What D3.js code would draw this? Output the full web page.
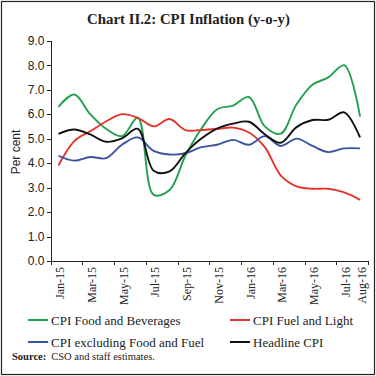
<!DOCTYPE html>
<html lang="en">
<head>
  <meta charset="UTF-8">
  <title>Chart II.2: CPI Inflation (y-o-y)</title>
  <script src="https://d3js.org/d3.v7.min.js"></script>
  <style>
    body { margin: 0; background: #fff; }
    svg { display: block; }
    .axis path, .axis line { stroke: #222; shape-rendering: crispEdges; }
    .axis text { fill: #222; }
  </style>
</head>
<body>
  <div id="chart"></div>
  <script>
    // Months on the x axis
    const months = ["Jan-15","Feb-15","Mar-15","Apr-15","May-15","Jun-15","Jul-15","Aug-15","Sep-15","Oct-15",
                    "Nov-15","Dec-15","Jan-16","Feb-16","Mar-16","Apr-16","May-16","Jun-16","Jul-16","Aug-16"];
    const tickLabels = ["Jan-15","Mar-15","May-15","Jul-15","Sep-15","Nov-15","Jan-16","Mar-16","May-16","Jul-16","Aug-16"];
    const yTicks = [0,1,2,3,4,5,6,7,8,9];

    // Series values (per cent)
    const foodBev   = [6.3, 6.8, 6.0, 5.4, 5.1, 5.85, 2.7, 2.9, 4.3, 5.4, 6.2, 6.35, 6.7, 5.5, 5.2, 6.4, 7.2, 7.5, 8.0, 5.9];
    const fuelLight = [3.9, 4.9, 5.3, 5.7, 6.0, 5.85, 5.5, 5.8, 5.35, 5.35, 5.4, 5.45, 5.25, 4.65, 3.5, 3.05, 2.95, 2.95, 2.8, 2.5];
    const exFoodFuel = [4.3, 4.1, 4.25, 4.2, 4.75, 5.05, 4.5, 4.35, 4.4, 4.65, 4.75, 4.95, 4.75, 5.1, 4.7, 5.0, 4.7, 4.45, 4.6, 4.6];
    const headline  = [5.19, 5.37, 5.17, 4.87, 5.01, 5.40, 3.69, 3.66, 4.41, 5.0, 5.41, 5.61, 5.69, 5.18, 4.83, 5.47, 5.76, 5.77, 6.07, 5.05];

    const series = [
      { name: "CPI Food and Beverages", values: foodBev, color: "#23a050" },
      { name: "CPI Fuel and Light", values: fuelLight, color: "#e3342b" },
      { name: "CPI excluding Food and Fuel", values: exFoodFuel, color: "#3a52a0" },
      { name: "Headline CPI", values: headline, color: "#111" }
    ];

    const W = 376, H = 376;
    const svg = d3.select("#chart").append("svg")
      .attr("width", W).attr("height", H);

    // outer frame
    svg.append("rect")
      .attr("x", 1.5).attr("y", 1.5)
      .attr("width", W - 3).attr("height", H - 3)
      .attr("fill", "none").attr("stroke", "#222").attr("stroke-width", 1.2);

    // title, sized so it spans about 203px like the original
    const title = svg.append("text")
      .attr("x", 188.5).attr("y", 23.5)
      .attr("text-anchor", "middle")
      .style("font-family", "'Liberation Serif', serif")
      .style("font-weight", "bold")
      .style("font-size", "16px")
      .style("fill", "#222")
      .text("Chart II.2: CPI Inflation (y-o-y)");
    const tw = title.node().getComputedTextLength();
    if (tw > 0) title.style("font-size", (16 * 203 / tw).toFixed(2) + "px");

    // scales
    const x = d3.scaleLinear().domain([-0.5, months.length - 0.5]).range([50.5, 368]);
    const y = d3.scaleLinear().domain([0, 9]).range([261, 40.7]);

    // y axis
    const yAxis = svg.append("g")
      .attr("class", "axis")
      .attr("transform", "translate(50.5,0)")
      .call(d3.axisLeft(y).tickValues(yTicks).tickFormat(d3.format(".1f")).tickSize(4).tickPadding(2));
    yAxis.selectAll("text")
      .style("font-family", "'Liberation Sans', sans-serif")
      .style("font-size", "12px");

    // x axis: ticks on every other month boundary
    const boundaries = d3.range(-0.5, months.length, 2);
    svg.append("g")
      .attr("class", "axis")
      .attr("transform", "translate(0,261)")
      .call(d3.axisBottom(x).tickValues(boundaries).tickFormat("").tickSize(4).tickSizeOuter(0));

    svg.append("g")
      .selectAll("text")
      .data(tickLabels)
      .enter().append("text")
      .attr("transform", d => `translate(${x(months.indexOf(d)) + 1.5},267) rotate(-90)`)
      .attr("text-anchor", "end")
      .attr("dy", "0.35em")
      .style("font-family", "'Liberation Serif', serif")
      .style("font-size", "12px")
      .style("fill", "#222")
      .text(d => d);

    // y axis title
    svg.append("text")
      .attr("transform", "translate(16,152) rotate(-90)")
      .attr("text-anchor", "middle")
      .attr("dy", "0.35em")
      .style("font-family", "'Liberation Sans', sans-serif")
      .style("font-size", "12px")
      .style("fill", "#222")
      .text("Per cent");

    // lines
    const line = d3.line()
      .x((d, i) => x(i))
      .y(d => y(d))
      .curve(d3.curveCatmullRom.alpha(0.5));

    svg.selectAll(".series")
      .data(series)
      .enter().append("path")
      .attr("class", "series")
      .attr("d", d => line(d.values))
      .attr("fill", "none")
      .attr("stroke", d => d.color)
      .attr("stroke-width", 1.9);

    // legend
    const legendPos = [[28, 320], [230, 320], [28, 342], [230, 342]];
    const legend = svg.selectAll(".legend")
      .data(series)
      .enter().append("g")
      .attr("class", "legend")
      .attr("transform", (d, i) => `translate(${legendPos[i][0]},${legendPos[i][1]})`);
    legend.append("line")
      .attr("x1", 0).attr("x2", 20)
      .attr("stroke", d => d.color).attr("stroke-width", 2);
    legend.append("text")
      .attr("x", 23).attr("dy", "0.35em")
      .style("font-family", "'Liberation Serif', serif")
      .style("font-size", "13px")
      .style("fill", "#222")
      .text(d => d.name);

    // source note
    const src = svg.append("text")
      .attr("x", 12).attr("y", 360)
      .style("font-family", "'Liberation Serif', serif")
      .style("font-size", "10.5px")
      .style("fill", "#222");
    src.append("tspan").style("font-weight", "bold").text("Source:");
    src.append("tspan").attr("dx", 5).text("CSO and staff estimates.");
  </script>
</body>
</html>
